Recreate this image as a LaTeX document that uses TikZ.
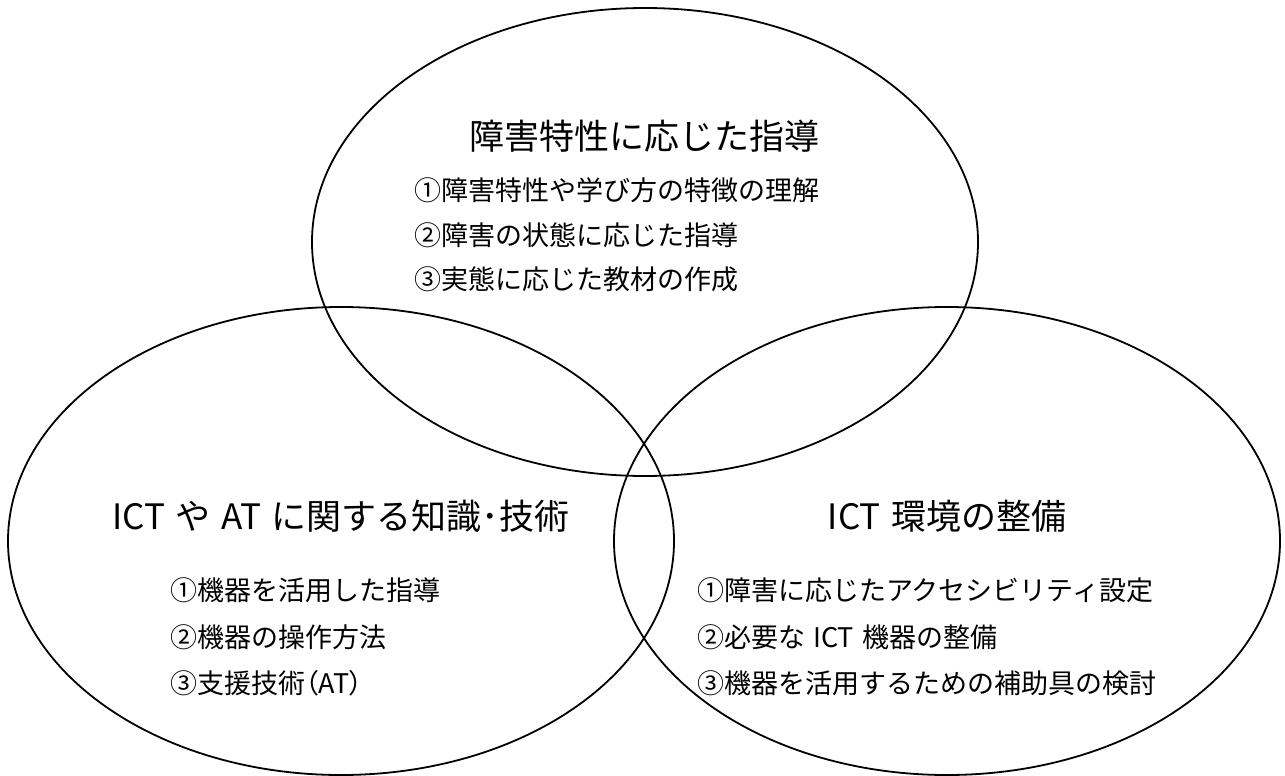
\documentclass[tikz,border=0pt]{standalone}
\usepackage{fontspec}
\setmainfont{Noto Sans CJK JP}
\newfontfamily\pfont[RawFeature=+palt]{Noto Sans CJK JP}
\usetikzlibrary{shapes.geometric}
\newcommand\hsp{\hspace{0.3em}}
\begin{document}
\begin{tikzpicture}[x=1pt,y=-1pt,
  venn/.style={draw=black, line width=1.8pt, ellipse, minimum width=666pt, minimum height=468pt, inner sep=0pt},
  ttl/.style={font=\fontsize{35pt}{42pt}\selectfont, inner sep=0pt},
  itm/.style={font=\fontsize{27pt}{32pt}\selectfont, inner sep=0pt, anchor=west}]
\useasboundingbox (0,0) rectangle (1285,776);
\fill[white] (0,0) rectangle (1285,776);
\node[venn] (top) at (645,242) {};
\node[venn] (left) at (341,541) {};
\node[venn] (right) at (947,541) {};
% top
\node[ttl] (t0) at (644,136) {障害特性に応じた指導};
\node[itm] (t1) at (414,190) {①障害特性や学び方の特徴の理解};
\node[itm] (t2) at (414,235) {②障害の状態に応じた指導};
\node[itm] (t3) at (414,279) {③実態に応じた教材の作成};
% left
\node[ttl] (l0) at (341,516) {ICT\hsp や\hsp AT\hsp に関する知識{\pfont ･}技術};
\node[itm] (l1) at (170,590) {①機器を活用した指導};
\node[itm] (l2) at (170,637) {②機器の操作方法};
\node[itm] (l3) at (170,683) {③支援技術{\pfont （}AT{\pfont ）}};
% right
\node[ttl] (r0) at (947,516) {ICT\hsp 環境の整備};
\node[itm] (r1) at (697,590) {①障害に応じたアクセシビリティ設定};
\node[itm] (r2) at (697,637) {②必要な\hsp ICT\hsp 機器の整備};
\node[itm] (r3) at (697,683) {③機器を活用するための補助具の検討};
\end{tikzpicture}
\end{document}
